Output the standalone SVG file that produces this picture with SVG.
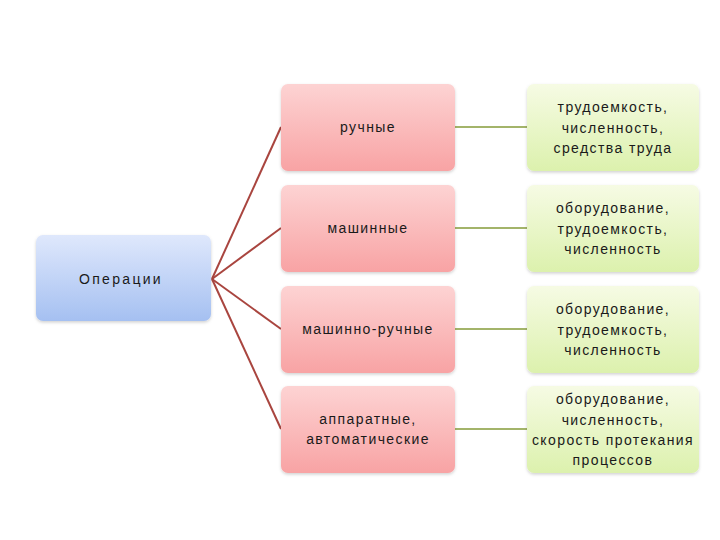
<svg xmlns="http://www.w3.org/2000/svg" width="720" height="540" viewBox="0 0 720 540">
<style>
text{font-family:"Liberation Sans","DejaVu Sans",sans-serif;font-size:14px;fill:#1a1a1a;text-anchor:middle;letter-spacing:1.4px}
.pink{fill:url(#gp)}
.green{fill:url(#gg)}
.blue{fill:url(#gb)}
.c1{stroke:#a9453f;stroke-width:2;fill:none}
.c2{stroke:#a3b46a;stroke-width:2;fill:none}
</style>
<defs>
<linearGradient id="gp" x1="0" y1="0" x2="0" y2="1"><stop offset="0" stop-color="#fdd3d3"/><stop offset="1" stop-color="#f8a3a4"/></linearGradient>
<linearGradient id="gg" x1="0" y1="0" x2="0" y2="1"><stop offset="0" stop-color="#f6fbe4"/><stop offset="1" stop-color="#dcf1ad"/></linearGradient>
<linearGradient id="gb" x1="0" y1="0" x2="0" y2="1"><stop offset="0" stop-color="#dfe8fc"/><stop offset="1" stop-color="#a5c0f1"/></linearGradient>
<filter id="sh" x="-10%" y="-10%" width="120%" height="130%"><feDropShadow dx="0" dy="1.5" stdDeviation="1.5" flood-color="#000" flood-opacity="0.18"/></filter>
</defs>
<rect width="720" height="540" fill="#fff"/>
<g id="connectors">
<line class="c1" x1="212" y1="279" x2="281" y2="127"/>
<line class="c1" x1="212" y1="279" x2="281" y2="228"/>
<line class="c1" x1="212" y1="279" x2="281" y2="329"/>
<line class="c1" x1="212" y1="279" x2="281" y2="429"/>
<line class="c2" x1="455" y1="127" x2="527" y2="127"/>
<line class="c2" x1="455" y1="228" x2="527" y2="228"/>
<line class="c2" x1="455" y1="329" x2="527" y2="329"/>
<line class="c2" x1="455" y1="429" x2="527" y2="429"/>
</g>
<g id="operations"><rect class="blue" filter="url(#sh)" x="36" y="235" width="175" height="86" rx="7"/><text x="121" y="284" style="letter-spacing:2.3px">Операции</text></g>
<g id="manual"><rect class="pink" filter="url(#sh)" x="281" y="84" width="174" height="87" rx="7"/><text x="368" y="132">ручные</text></g>
<g id="machine"><rect class="pink" filter="url(#sh)" x="281" y="185" width="174" height="87" rx="7"/><text x="368" y="233">машинные</text></g>
<g id="machine-manual"><rect class="pink" filter="url(#sh)" x="281" y="286" width="174" height="87" rx="7"/><text x="368" y="334">машинно-ручные</text></g>
<g id="automatic"><rect class="pink" filter="url(#sh)" x="281" y="386" width="174" height="87" rx="7"/><text x="368" y="424">аппаратные,</text><text x="368" y="444">автоматические</text></g>
<g id="r1"><rect class="green" filter="url(#sh)" x="527" y="84" width="172" height="87" rx="7"/><text x="613" y="112">трудоемкость,</text><text x="613" y="133">численность,</text><text x="613" y="153">средства труда</text></g>
<g id="r2"><rect class="green" filter="url(#sh)" x="527" y="185" width="172" height="87" rx="7"/><text x="613" y="213">оборудование,</text><text x="613" y="234">трудоемкость,</text><text x="613" y="254">численность</text></g>
<g id="r3"><rect class="green" filter="url(#sh)" x="527" y="286" width="172" height="87" rx="7"/><text x="613" y="314">оборудование,</text><text x="613" y="335">трудоемкость,</text><text x="613" y="355">численность</text></g>
<g id="r4"><rect class="green" filter="url(#sh)" x="527" y="386" width="172" height="87" rx="7"/><text x="613" y="404">оборудование,</text><text x="613" y="425">численность,</text><text x="613" y="445">скорость протекания</text><text x="613" y="465">процессов</text></g>
</svg>
